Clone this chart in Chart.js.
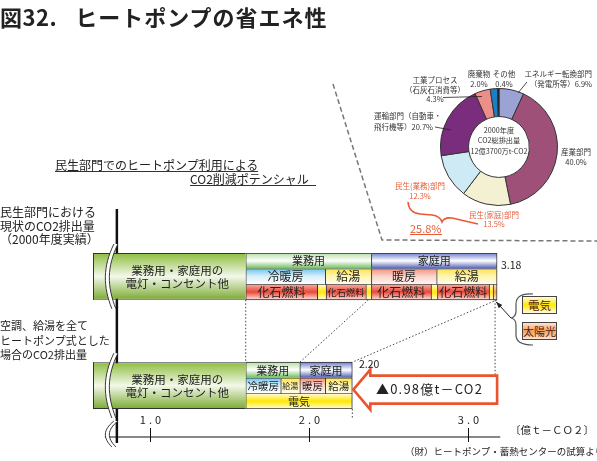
<!DOCTYPE html>
<html lang="ja">
<head>
<meta charset="utf-8">
<title>図32. ヒートポンプの省エネ性</title>
<script src="https://cdn.jsdelivr.net/npm/chart.js@4.4.1/dist/chart.umd.min.js"></script>
<style>
html, body { margin: 0; padding: 0; background: #fff; }
body { position: relative; width: 597px; height: 461px; overflow: hidden; font-family: "Noto Sans CJK JP", "Noto Sans", sans-serif; color: #222; }
canvas, svg, .t { position: absolute; }
.t { white-space: nowrap; line-height: 1.2; }
.s { font-size: 7.5px; line-height: 9.5px; color: #333; }
.red { color: #e85a35; }
</style>
</head>
<body>
<canvas id="bars" width="597" height="461" style="left:0;top:0"></canvas>
<canvas id="pie" width="118" height="118" style="left:440px;top:88px"></canvas>

<svg width="597" height="461" style="left:0;top:0">
  <polyline points="333,84 382,240 597,241" fill="none" stroke="#777" stroke-width="1.5" stroke-dasharray="5,3"/>
  <g stroke="#222" stroke-width="0.8" fill="none">
    <line x1="443" y1="97.5" x2="482" y2="96.5"/>
    <line x1="527" y1="82" x2="518" y2="93"/>
    <line x1="435" y1="127" x2="451" y2="130"/>
  </g>
  <path d="M408,202 Q409,213 420,214 L432,215 Q440,216 442,222 Q444,217 452,218 L478,224" fill="none" stroke="#e85a35" stroke-width="1.6"/>
  <path d="M533,294 Q516,293 516,304 L516,311 Q516,317 511,318 Q516,319 516,325 L516,335 Q516,345 533,345" fill="none" stroke="#555" stroke-width="1.2"/>
</svg>

<div class="t" style="left:0;top:3px;font-size:22px;font-weight:700;letter-spacing:0.5px">図32.<span style="margin-left:18px;letter-spacing:1px">ヒートポンプの省エネ性</span></div>

<div class="t" style="left:55px;top:159px;font-size:12px;line-height:12px;border-bottom:1px solid #333">民生部門でのヒートポンプ利用による</div>
<div class="t" style="left:190px;top:173px;width:126px;font-size:12px;line-height:12px;border-bottom:1px solid #333">CO2削減ポテンシャル</div>

<div class="t" style="left:0;top:205px;font-size:12px;line-height:13.5px">民生部門における<br>現状のCO2排出量<br>（2000年度実績）</div>
<div class="t" style="left:0;top:318px;font-size:11px;line-height:14.5px">空調、給湯を全て<br>ヒートポンプ式とした<br>場合のCO2排出量</div>

<div class="t" style="left:501px;top:259px;font-size:10.5px">3.18</div>
<div class="t" style="left:359px;top:357.5px;font-size:10.5px">2.20</div>
<div class="t" style="left:376px;top:381px;font-size:13px;letter-spacing:1.2px">▲0.98億t－CO2</div>
<div class="t" style="left:510px;top:423.5px;font-size:10.5px">〔億ｔ－ＣＯ２〕</div>
<div class="t" style="left:405px;top:446px;font-size:9.5px">（財）ヒートポンプ・蓄熱センターの試算より</div>

<div class="t" style="left:522px;top:296px;width:33px;height:16px;border:1px solid #444;background:linear-gradient(#fffbe0,#ffea00 50%,#fffce8);font-size:11.5px;line-height:16px;text-align:center;color:#5a1a08">電気</div>
<div class="t" style="left:522px;top:322px;width:33px;height:16px;border:1px solid #444;background:linear-gradient(#fde3cf,#f6a059 50%,#fde6d2);font-size:11px;line-height:16px;text-align:center;color:#5a1a08">太陽光</div>

<div class="t s" style="left:405px;top:75.2px;width:60px;text-align:center">工業プロセス<br>（石灰石消費等）<br>4.3%</div>
<div class="t s" style="left:464px;top:69.3px;width:30px;text-align:center;line-height:9.3px">廃棄物<br>2.0%</div>
<div class="t s" style="left:491px;top:69.3px;width:26px;text-align:center;line-height:9.3px">その他<br>0.4%</div>
<div class="t s" style="left:500px;top:69.3px;width:92px;text-align:right;line-height:9.3px">エネルギー転換部門<br>（発電所等）6.9%</div>
<div class="t s" style="left:374px;top:111.4px;line-height:10.6px">運輸部門（自動車・<br>飛行機等）20.7%</div>
<div class="t s" style="left:554px;top:146.7px;width:44px;text-align:center;line-height:10px">産業部門<br>40.0%</div>
<div class="t s red" style="left:390px;top:181px;width:60px;text-align:center;line-height:10px">民生(業務)部門<br>12.3%</div>
<div class="t s red" style="left:464px;top:209.8px;width:60px;text-align:center;line-height:9px">民生(家庭)部門<br>13.5%</div>
<div class="t red" style="left:410px;top:222.5px;font-size:11px;line-height:11px;border-bottom:1px solid #e85a35">25.8%</div>
<div class="t" style="left:464px;top:124.6px;width:70px;text-align:center;font-size:7.2px;line-height:10.8px;color:#333">2000年度<br>CO2総排出量<br>12億3700万t-CO2</div>

<script>
// 行：上段が現状（2000年度）、下段が空調・給湯を全てヒートポンプ化した場合
var rows = ['現状・区分', '現状・用途', '現状・熱源', '間1', '間2', '間3', '間4', 'HP・区分', 'HP・用途', 'HP・熱源'];

// 単位：億t-CO2
var lighting = 1.60;
var lightingLabel = ['業務用・家庭用の', '電灯・コンセント他'];
var sectorNames = ['業務用', '家庭用'];
var useNames = ['冷暖房', '給湯', '暖房', '給湯'];

var nowSector = [0.79, 0.79];
var nowUse = [0.50, 0.29, 0.41, 0.38];
var nowFuel = [0.45, 0.055, 0.25, 0.035, 0.375, 0.04, 0.325, 0.025, 0.025];
var nowFuelNames = ['化石燃料', '電気', '化石燃料', '電気', '化石燃料', '電気', '化石燃料', '電気', '太陽光'];

var hpSector = [0.34, 0.33];
var hpUse = [0.22, 0.12, 0.16, 0.17];
var hpFuel = [0.67];
var hpFuelNames = ['電気'];

var axisStart = 0.79;
var axisTicks = [1.0, 2.0, 3.0];
var axisTickLabels = ['1.0', '2.0', '3.0'];

// 2000年度 CO2総排出量の内訳（%）
var sectors = ['エネルギー転換部門', '産業部門', '民生(家庭)部門', '民生(業務)部門', '運輸部門', '工業プロセス', '廃棄物', 'その他'];
var shares = [6.9, 40.0, 13.5, 12.3, 20.7, 4.3, 2.0, 0.4];
var sectorColors = ['#9aa3d3', '#9f5079', '#f4f1d2', '#cdeaf5', '#7a2d7c', '#ee8e8b', '#1a7fc4', '#111111'];

var fills = {
    '電灯': ['#8dbd3e', '#f3f8ea', '#7aaa32'],
    '業務用': ['#b5e0a2', '#ffffff', '#6cbd58'],
    '家庭用': ['#6d7dcc', '#ffffff', '#4c5db5'],
    '冷暖房': ['#6fc5ee', '#d8eff9', '#ffffff'],
    '給湯': ['#ffe24d', '#fff5b0', '#fffdf0'],
    '暖房': ['#f2917d', '#fbd5cb', '#fff5f2'],
    '化石燃料': ['#f6b0a4', '#e94838', '#fde2dc'],
    '電気': ['#fffbe0', '#ffe800', '#fffce8'],
    '太陽光': ['#fde3cf', '#f5a055', '#fde6d2']
};
var labelSize = [11, 12, 12, 0, 0, 0, 0, 11, 10.5, 11];
var FONT = 'px "Noto Sans CJK JP"';

function segments(values, names, row) {
    var x = lighting;
    return values.map(function (v, i) {
        var seg = { y: row, x: [x, x + v], name: names[i], last: i === values.length - 1 };
        x += v;
        return seg;
    });
}

function rowHeight(ys) {
    return Math.abs(ys.getPixelForValue(1) - ys.getPixelForValue(0));
}

function band(chart, rowIndex, span, stops) {
    var ys = chart.scales.y;
    var h = rowHeight(ys) * span;
    var c = ys.getPixelForValue(rowIndex);
    var g = chart.ctx.createLinearGradient(0, c - h / 2, 0, c + h / 2);
    stops.forEach(function (s, i) { g.addColorStop(i / (stops.length - 1), s); });
    return g;
}

function paint(ctx) {
    var raw = ctx.raw;
    if (!raw || !ctx.chart.chartArea || !ctx.chart.scales.y) return '#ddd';
    return band(ctx.chart, ctx.parsed.y, ctx.datasetIndex === 0 ? 3 : 1, fills[raw.name]);
}

function edges(ctx) {
    var raw = ctx.raw;
    if (!raw) return 1;
    if (ctx.datasetIndex === 0) return { top: 1, bottom: 1, left: 0, right: 0 };
    var bottomRow = raw.y === rows[2] || raw.y === rows[9];
    return { top: 1, left: 1, right: raw.last ? 1 : 0, bottom: bottomRow ? 1 : 0 };
}

function breakMark(ctx, x, y1, y2) {
    var H = y2 - y1;
    function curve(o) {
        ctx.moveTo(x + 1 + o, y1);
        ctx.bezierCurveTo(x - 10 + o, y1 + H * 0.35, x - 10 + o, y1 + H * 0.65, x - 1 + o, y2);
    }
    ctx.save();
    ctx.beginPath();
    curve(0);
    ctx.lineTo(x + 3, y2);
    ctx.bezierCurveTo(x - 6, y1 + H * 0.65, x - 6, y1 + H * 0.35, x + 5, y1);
    ctx.closePath();
    ctx.fillStyle = '#fff';
    ctx.fill();
    ctx.strokeStyle = '#222';
    ctx.lineWidth = 0.9;
    ctx.beginPath(); curve(0); ctx.stroke();
    ctx.beginPath(); curve(4); ctx.stroke();
    ctx.restore();
}

function pointer(ctx, x1, y1, x2, y2) {
    var ang = Math.atan2(y2 - y1, x2 - x1);
    ctx.beginPath(); ctx.moveTo(x1, y1); ctx.lineTo(x2, y2); ctx.stroke();
    ctx.beginPath();
    ctx.moveTo(x2, y2);
    ctx.lineTo(x2 - 7 * Math.cos(ang - 0.35), y2 - 7 * Math.sin(ang - 0.35));
    ctx.lineTo(x2 - 7 * Math.cos(ang + 0.35), y2 - 7 * Math.sin(ang + 0.35));
    ctx.closePath();
    ctx.fill();
}

function sum(a) { return a.reduce(function (s, v) { return s + v; }, 0); }

var decor = {
    id: 'decor',
    beforeDatasetsDraw: function (chart) {
        var ctx = chart.ctx, xs = chart.scales.x, a = chart.chartArea;
        var ax = xs.getPixelForValue(axisStart);
        var ay = a.bottom + 28;
        ctx.save();
        ctx.strokeStyle = '#111';
        ctx.lineWidth = 2.5;
        ctx.beginPath(); ctx.moveTo(ax, a.top - 44); ctx.lineTo(ax, ay + 6); ctx.stroke();
        ctx.lineWidth = 1.2;
        ctx.beginPath(); ctx.moveTo(ax - 12, ay); ctx.lineTo(xs.getPixelForValue(3.2), ay); ctx.stroke();
        ctx.lineWidth = 1;
        ctx.fillStyle = '#222';
        ctx.font = '11' + FONT;
        ctx.textAlign = 'center';
        ctx.textBaseline = 'middle';
        ctx.letterSpacing = '3px';
        axisTicks.forEach(function (v, i) {
            var x = Math.round(xs.getPixelForValue(v)) + 0.5;
            ctx.beginPath(); ctx.moveTo(x, ay - 9); ctx.lineTo(x, ay + 5); ctx.stroke();
            ctx.fillText(axisTickLabels[i], x + 1.5, ay - 17);
        });
        ctx.restore();
    },
    afterDatasetsDraw: function (chart) {
        var ctx = chart.ctx, xs = chart.scales.x, ys = chart.scales.y, a = chart.chartArea;
        var h = rowHeight(ys);
        var ax = xs.getPixelForValue(axisStart);
        var ay = a.bottom + 28;
        ctx.save();
        ctx.textAlign = 'center';
        ctx.textBaseline = 'middle';
        ctx.fillStyle = '#222';

        [1, 2, 3].forEach(function (di) {
            var meta = chart.getDatasetMeta(di);
            meta.data.forEach(function (el, i) {
                var raw = chart.data.datasets[di].data[i];
                var p = el.getProps(['x', 'y', 'base'], true);
                var w = Math.abs(p.x - p.base);
                var fs = Math.min(labelSize[rows.indexOf(raw.y)], (w - 3) / raw.name.length);
                if (fs < 7) return;
                ctx.font = fs + FONT;
                ctx.fillText(raw.name, (p.x + p.base) / 2, p.y + 0.5);
            });
        });

        // 電灯・コンセント他（軸の省略あり）
        chart.getDatasetMeta(0).data.forEach(function (el) {
            var p = el.getProps(['x', 'y'], true);
            ctx.strokeStyle = '#333';
            ctx.lineWidth = 1;
            ctx.beginPath();
            ctx.moveTo(a.left + 0.5, p.y - 1.5 * h);
            ctx.lineTo(a.left + 0.5, p.y + 1.5 * h);
            ctx.stroke();
            var cx = (ax + p.x) / 2 - 4;
            ctx.font = '11.5' + FONT;
            ctx.fillText(lightingLabel[0], cx, p.y - 6);
            ctx.fillText(lightingLabel[1], cx, p.y + 7.5);
            breakMark(ctx, ax - 4, p.y - 1.5 * h - 9, p.y + 1.5 * h + 9);
        });
        breakMark(ctx, ax - 4, ay - 16, ay + 10);

        // 点線の補助線
        var topBottom = ys.getPixelForValue(2) + h / 2;
        var lowTop = ys.getPixelForValue(7) - h / 2;
        var lowBottom = ys.getPixelForValue(9) + h / 2;
        var xBase = xs.getPixelForValue(lighting);
        var xNowBiz = xs.getPixelForValue(lighting + nowSector[0]);
        var xHpBiz = xs.getPixelForValue(lighting + hpSector[0]);
        var xNow = xs.getPixelForValue(lighting + sum(nowSector));
        var xHp = xs.getPixelForValue(lighting + sum(hpSector));
        var cy = ys.getPixelForValue(8) + 4;

        ctx.strokeStyle = '#444';
        ctx.lineWidth = 1;
        ctx.setLineDash([1.5, 2]);
        ctx.beginPath();
        ctx.moveTo(xBase, topBottom); ctx.lineTo(xBase, lowTop);
        ctx.moveTo(xNowBiz - 3, topBottom); ctx.lineTo(xHpBiz, lowTop);
        ctx.moveTo(xNow, topBottom); ctx.lineTo(xHp, lowTop);
        ctx.moveTo(xNow - 2, topBottom); ctx.lineTo(xNow - 2, cy - 14);
        ctx.moveTo(xHp, lowBottom); ctx.lineTo(xHp, lowBottom + 10);
        ctx.stroke();
        ctx.setLineDash([]);

        // 削減量の矢印
        ctx.beginPath();
        ctx.moveTo(xHp + 1, cy);
        ctx.lineTo(xHp + 18, cy - 20);
        ctx.lineTo(xHp + 18, cy - 14);
        ctx.lineTo(xNow, cy - 14);
        ctx.lineTo(xNow, cy + 14);
        ctx.lineTo(xHp + 18, cy + 14);
        ctx.lineTo(xHp + 18, cy + 20);
        ctx.closePath();
        ctx.fillStyle = '#fff';
        ctx.fill();
        ctx.strokeStyle = '#ea552f';
        ctx.lineWidth = 2.6;
        ctx.lineJoin = 'miter';
        ctx.stroke();

        // 凡例への引出し
        ctx.strokeStyle = '#222';
        ctx.fillStyle = '#222';
        ctx.lineWidth = 1;
        pointer(ctx, 511, 318, xNow - 1, topBottom + 2);
        ctx.restore();
    }
};

var barStyle = { backgroundColor: paint, borderColor: '#333', borderWidth: edges };

new Chart(document.getElementById('bars'), {
    type: 'bar',
    data: {
        labels: rows,
        datasets: [
            Object.assign({
                label: lightingLabel.join(''),
                data: [
                    { y: rows[1], x: [0, lighting], name: '電灯' },
                    { y: rows[8], x: [0, lighting], name: '電灯' }
                ],
                categoryPercentage: 3
            }, barStyle),
            Object.assign({ label: '区分', data: segments(nowSector, sectorNames, rows[0]).concat(segments(hpSector, sectorNames, rows[7])) }, barStyle),
            Object.assign({ label: '用途', data: segments(nowUse, useNames, rows[1]).concat(segments(hpUse, useNames, rows[8])) }, barStyle),
            Object.assign({ label: '熱源', data: segments(nowFuel, nowFuelNames, rows[2]).concat(segments(hpFuel, hpFuelNames, rows[9])) }, barStyle)
        ]
    },
    options: {
        indexAxis: 'y',
        responsive: false,
        animation: false,
        layout: { padding: { left: 93, right: 49, top: 253, bottom: 52 } },
        scales: {
            x: { type: 'linear', min: 0.64, max: 3.5, display: false },
            y: { type: 'category', offset: true, display: false }
        },
        datasets: {
            bar: {
                barPercentage: 1,
                categoryPercentage: 1,
                grouped: false,
                borderSkipped: false,
                clip: 0
            }
        },
        plugins: { colors: { enabled: false }, legend: { display: false }, tooltip: { enabled: false } }
    },
    plugins: [decor]
});

new Chart(document.getElementById('pie'), {
    type: 'doughnut',
    data: {
        labels: sectors,
        datasets: [{
            data: shares,
            backgroundColor: sectorColors,
            borderColor: '#333',
            borderWidth: 1
        }]
    },
    options: {
        responsive: false,
        animation: false,
        cutout: '52%',
        plugins: { colors: { enabled: false }, legend: { display: false }, tooltip: { enabled: false } }
    }
});
</script>
</body>
</html>
